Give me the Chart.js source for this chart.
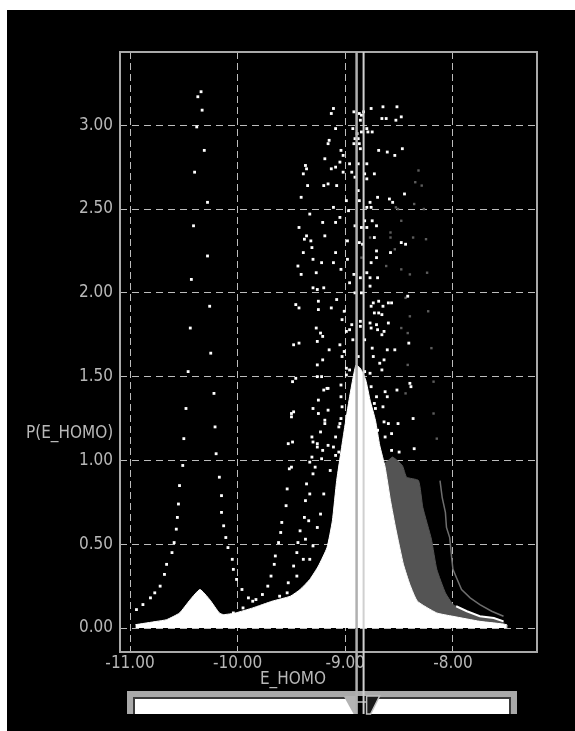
<!DOCTYPE html>
<html>
<head>
<meta charset="utf-8">
<script src="https://cdn.jsdelivr.net/npm/chart.js@4.4.1/dist/chart.umd.min.js"></script>
<style>
  html, body { margin: 0; padding: 0; background: #fff; }
  #wrap { position: absolute; left: 7px; top: 10px; width: 568px; height: 721px; background: #000; }
</style>
</head>
<body>
<div id="wrap"><canvas id="chart"></canvas></div>
<script>
// axis ticks
const xTicks = [-11, -10, -9, -8];
const yTicks = [0, 0.5, 1, 1.5, 2, 2.5, 3];
// positions of the two cursor lines (E_HOMO)
const cursorLines = [-8.895, -8.83];

// main density (white area)
const whiteDensity = [
  [-10.95, 0.02], [-10.75, 0.04], [-10.66, 0.05], [-10.54, 0.09], [-10.44, 0.17], [-10.35, 0.23],
  [-10.26, 0.17], [-10.17, 0.09], [-10.13, 0.08], [-10.02, 0.09], [-9.86, 0.12], [-9.68, 0.16],
  [-9.51, 0.19], [-9.42, 0.23], [-9.33, 0.29], [-9.25, 0.37], [-9.17, 0.48], [-9.12, 0.64],
  [-9.08, 0.88], [-9.01, 1.18], [-8.96, 1.38], [-8.92, 1.52], [-8.90, 1.57], [-8.86, 1.55],
  [-8.81, 1.48], [-8.77, 1.36], [-8.72, 1.24], [-8.68, 1.09], [-8.63, 0.96], [-8.58, 0.76],
  [-8.53, 0.59], [-8.46, 0.38], [-8.40, 0.26], [-8.33, 0.16], [-8.15, 0.09], [-8.00, 0.07],
  [-7.75, 0.04], [-7.50, 0.02], [-7.50, 0.00]
];
// second density (dark grey area)
const grayDensity = [
  [-8.66, 0.97], [-8.60, 1.00], [-8.56, 1.02], [-8.47, 0.97], [-8.43, 0.90], [-8.32, 0.88],
  [-8.28, 0.72], [-8.20, 0.53], [-8.15, 0.35], [-8.07, 0.21], [-8.00, 0.14], [-7.97, 0.13],
  [-7.87, 0.10], [-7.75, 0.07], [-7.62, 0.06], [-7.53, 0.04], [-7.53, 0.00]
];
const tailEdge = [[-7.97, 0.13], [-7.87, 0.10], [-7.75, 0.07], [-7.62, 0.06], [-7.53, 0.04]];
const dimTail = [
  [-8.12, 0.88], [-8.10, 0.78], [-8.07, 0.69], [-8.06, 0.60], [-8.03, 0.54], [-8.01, 0.41],
  [-8.00, 0.35], [-7.96, 0.29], [-7.92, 0.23], [-7.84, 0.18], [-7.75, 0.14], [-7.64, 0.10], [-7.53, 0.07]
];

// dotted curves
const leftRise = [
  [-10.94, 0.11], [-10.88, 0.14], [-10.81, 0.18], [-10.77, 0.21], [-10.72, 0.25], [-10.68, 0.32],
  [-10.66, 0.38], [-10.61, 0.45], [-10.59, 0.51], [-10.57, 0.59], [-10.56, 0.66], [-10.55, 0.74],
  [-10.54, 0.85], [-10.51, 0.97], [-10.50, 1.13], [-10.48, 1.31], [-10.46, 1.53], [-10.44, 1.79],
  [-10.43, 2.08], [-10.41, 2.40], [-10.40, 2.72], [-10.38, 2.99], [-10.37, 3.17], [-10.34, 3.20]
];
const leftFall = [
  [-10.33, 3.09], [-10.31, 2.85], [-10.28, 2.54], [-10.28, 2.22], [-10.26, 1.92], [-10.25, 1.64],
  [-10.22, 1.40], [-10.21, 1.20], [-10.20, 1.04], [-10.17, 0.90], [-10.15, 0.79], [-10.15, 0.69],
  [-10.13, 0.61], [-10.11, 0.54], [-10.09, 0.48], [-10.05, 0.41], [-10.04, 0.35], [-10.01, 0.29],
  [-9.96, 0.23], [-9.90, 0.18], [-9.81, 0.12], [-9.74, 0.10]
];
const midCurve1 = [
  [-10.04, 0.09], [-9.95, 0.12], [-9.86, 0.16], [-9.83, 0.17], [-9.77, 0.20], [-9.72, 0.25],
  [-9.69, 0.31], [-9.66, 0.38], [-9.65, 0.43], [-9.62, 0.51], [-9.60, 0.57], [-9.59, 0.63],
  [-9.55, 0.73], [-9.54, 0.83], [-9.52, 0.95], [-9.50, 1.28]
];
const midCurve2 = [
  [-9.30, 1.11], [-9.31, 1.02], [-9.36, 0.86], [-9.37, 0.76], [-9.38, 0.66], [-9.42, 0.58],
  [-9.44, 0.51], [-9.45, 0.45], [-9.48, 0.37], [-9.53, 0.27], [-9.61, 0.19]
];
const midCurve3 = [
  [-9.17, 1.43], [-9.16, 1.30], [-9.26, 1.08], [-9.30, 0.92], [-9.33, 0.80], [-9.34, 0.64],
  [-9.37, 0.53], [-9.39, 0.41], [-9.45, 0.31], [-9.54, 0.21]
];
const edgeDots = [
  [-9.11, 1.08], [-9.14, 0.94], [-9.20, 0.80], [-9.23, 0.68], [-9.26, 0.60], [-9.30, 0.49], [-9.33, 0.41]
];
// scattered cloud round the main peak
const cloudDots = [
  [-9.11, 3.10], [-9.13, 3.07], [-8.92, 3.08], [-8.87, 3.07], [-8.85, 3.06], [-8.86, 3.03], [-9.09, 2.98],
  [-8.93, 2.98], [-8.89, 2.95], [-8.85, 2.96], [-8.91, 2.92], [-9.15, 2.91], [-9.16, 2.89], [-8.92, 2.89],
  [-8.87, 2.89], [-8.86, 2.86], [-9.04, 2.85], [-9.02, 2.82], [-9.19, 2.80], [-9.05, 2.78], [-8.96, 2.77],
  [-9.37, 2.76], [-9.36, 2.74], [-9.13, 2.74], [-9.09, 2.75], [-9.39, 2.71], [-9.02, 2.72], [-8.94, 2.72],
  [-8.91, 2.69], [-9.35, 2.64], [-9.20, 2.64], [-9.16, 2.65], [-9.08, 2.64], [-8.88, 2.61], [-9.41, 2.57],
  [-8.99, 2.55], [-8.87, 2.55], [-9.11, 2.51], [-8.97, 2.49], [-9.33, 2.47], [-9.05, 2.45], [-9.09, 2.42],
  [-9.21, 2.42], [-9.43, 2.39], [-8.91, 2.40], [-9.36, 2.34], [-9.19, 2.34], [-9.38, 2.32], [-9.32, 2.31],
  [-8.98, 2.31], [-8.87, 2.30], [-9.31, 2.27], [-9.39, 2.24], [-9.09, 2.24], [-9.30, 2.20], [-8.98, 2.20],
  [-9.44, 2.16], [-9.22, 2.18], [-9.11, 2.18], [-9.04, 2.14], [-9.27, 2.12], [-9.41, 2.11], [-8.92, 2.11],
  [-8.86, 2.09], [-8.96, 2.06], [-9.30, 2.03], [-9.26, 2.02], [-9.20, 2.03], [-8.91, 2.00], [-8.85, 2.00],
  [-9.25, 1.95], [-9.08, 1.96], [-9.46, 1.93], [-9.43, 1.91], [-9.25, 1.90], [-9.13, 1.91], [-9.01, 1.89],
  [-9.03, 1.84], [-8.94, 1.81], [-8.86, 1.83], [-8.86, 1.80], [-9.27, 1.79], [-9.23, 1.76], [-9.21, 1.74],
  [-8.96, 1.78], [-8.99, 1.77], [-9.26, 1.71], [-8.93, 1.72], [-9.48, 1.69], [-9.43, 1.70], [-9.15, 1.66],
  [-9.05, 1.69], [-9.01, 1.65], [-9.03, 1.62], [-9.21, 1.60], [-8.88, 1.62], [-9.26, 1.57], [-8.99, 1.55],
  [-8.96, 1.54], [-9.46, 1.49], [-9.49, 1.47], [-9.26, 1.50], [-9.22, 1.50], [-8.99, 1.51], [-9.04, 1.45],
  [-9.16, 1.43], [-9.20, 1.42], [-9.04, 1.38], [-9.25, 1.36], [-9.30, 1.31], [-9.03, 1.32], [-9.48, 1.29],
  [-9.50, 1.26], [-9.25, 1.28], [-9.19, 1.24], [-9.19, 1.22], [-9.04, 1.25], [-9.06, 1.20], [-9.05, 1.22],
  [-9.23, 1.17], [-9.31, 1.14], [-9.09, 1.14], [-9.49, 1.11], [-9.53, 1.10], [-9.26, 1.10], [-9.16, 1.09],
  [-9.21, 1.06], [-9.06, 1.05], [-9.09, 1.03], [-9.22, 1.01], [-9.33, 0.99], [-9.50, 0.96], [-9.28, 0.96],
  [-8.76, 3.10], [-8.65, 3.11], [-8.52, 3.11], [-8.83, 3.08], [-8.66, 3.04], [-8.62, 3.04], [-8.48, 3.05],
  [-8.53, 3.03], [-8.80, 2.98], [-8.79, 2.96], [-8.75, 2.96], [-8.88, 2.92], [-8.69, 2.85], [-8.61, 2.84],
  [-8.54, 2.82], [-8.47, 2.86], [-8.88, 2.77], [-8.80, 2.77], [-8.82, 2.71], [-8.73, 2.71], [-8.80, 2.68],
  [-8.45, 2.59], [-8.70, 2.57], [-8.59, 2.56], [-8.56, 2.54], [-8.77, 2.54], [-8.80, 2.51], [-8.76, 2.51],
  [-8.82, 2.43], [-8.75, 2.43], [-8.85, 2.39], [-8.80, 2.39], [-8.71, 2.40], [-8.73, 2.33], [-8.84, 2.29],
  [-8.48, 2.30], [-8.44, 2.29], [-8.71, 2.25], [-8.58, 2.24], [-8.71, 2.21], [-8.76, 2.18], [-8.80, 2.12],
  [-8.77, 2.09], [-8.70, 2.09], [-8.77, 2.04], [-8.42, 1.98], [-8.74, 1.94], [-8.69, 1.95], [-8.60, 1.94],
  [-8.57, 1.94], [-8.76, 1.92], [-8.65, 1.92], [-8.73, 1.88], [-8.69, 1.88], [-8.66, 1.87], [-8.77, 1.82],
  [-8.71, 1.81], [-8.60, 1.82], [-8.76, 1.79], [-8.70, 1.78], [-8.64, 1.77], [-8.66, 1.75], [-8.82, 1.72],
  [-8.41, 1.70], [-8.75, 1.67], [-8.61, 1.66], [-8.54, 1.66], [-8.74, 1.62], [-8.64, 1.60], [-8.68, 1.58],
  [-8.66, 1.54], [-8.82, 1.53], [-8.77, 1.52], [-8.76, 1.44], [-8.40, 1.46], [-8.39, 1.44], [-8.52, 1.42],
  [-8.63, 1.41], [-8.71, 1.38], [-8.61, 1.38], [-8.73, 1.34], [-8.65, 1.32], [-8.72, 1.31], [-8.37, 1.25],
  [-8.64, 1.23], [-8.60, 1.22], [-8.51, 1.22], [-8.70, 1.18], [-8.57, 1.16], [-8.63, 1.14], [-8.71, 1.10],
  [-8.36, 1.07], [-8.57, 1.06], [-8.50, 1.05], [-8.68, 1.04]
];
// faint grey dots right of the peak
const grayDots = [
  [-8.32, 2.73], [-8.35, 2.66], [-8.29, 2.64], [-8.53, 2.51], [-8.51, 2.50], [-8.36, 2.53], [-8.27, 2.50],
  [-8.48, 2.43], [-8.77, 2.33], [-8.58, 2.33], [-8.58, 2.36], [-8.37, 2.33], [-8.25, 2.32], [-8.54, 2.26],
  [-8.85, 2.21], [-8.62, 2.16], [-8.48, 2.14], [-8.24, 2.12], [-8.40, 2.11], [-8.44, 1.97], [-8.23, 1.89],
  [-8.40, 1.86], [-8.48, 1.79], [-8.42, 1.76], [-8.20, 1.67], [-8.42, 1.57], [-8.18, 1.47], [-8.44, 1.40],
  [-8.18, 1.28], [-8.15, 1.13]
];

const whiteDots = [].concat(leftRise, leftFall, midCurve1, midCurve2, midCurve3, edgeDots, cloudDots);
const FONT = "'Liberation Sans Narrow', 'DejaVu Sans Condensed', sans-serif";
const TEXT = '#b8b8b8';

// frame, cursor lines, slider and the two axis titles
const overlay = {
  id: 'overlay',
  afterDatasetsDraw(chart) {
    const { ctx, chartArea: a, scales: { x } } = chart;
    const c1 = x.getPixelForValue(cursorLines[0]);
    const c2 = x.getPixelForValue(cursorLines[1]);
    ctx.save();
    ctx.strokeStyle = '#a9a9a9';
    ctx.lineWidth = 2;
    ctx.strokeRect(a.left, a.top, a.right - a.left, a.bottom - a.top);

    // slider
    const sTop = a.bottom + 39, sBot = a.bottom + 62;
    ctx.fillStyle = '#a9a9a9';
    ctx.fillRect(a.left + 7, sTop, a.right - a.left - 27, sBot - sTop);
    ctx.fillStyle = '#3a3a3a';
    ctx.fillRect(a.left + 13, sTop + 6, a.right - a.left - 39, sBot - sTop - 6);
    ctx.fillStyle = '#ffffff';
    ctx.fillRect(a.left + 15, sTop + 8, a.right - a.left - 43, sBot - sTop - 8);
    ctx.fillStyle = '#000';
    ctx.fillRect(c1, sTop + 5, c2 + 3 - c1, sBot - sTop - 5);
    // left handle
    ctx.fillStyle = '#b4b4b4';
    ctx.beginPath();
    ctx.moveTo(c1 - 13, sTop + 5); ctx.lineTo(c1, sTop + 5); ctx.lineTo(c1, sBot); ctx.lineTo(c1 - 3, sBot);
    ctx.closePath(); ctx.fill();
    // right handle
    ctx.fillStyle = '#1a1a1a';
    ctx.strokeStyle = '#c0c0c0';
    ctx.lineWidth = 1.5;
    ctx.beginPath();
    ctx.moveTo(c2 + 3, sTop + 5); ctx.lineTo(c2 + 16, sTop + 5); ctx.lineTo(c2 + 7, sBot); ctx.lineTo(c2 + 3, sBot);
    ctx.closePath(); ctx.fill(); ctx.stroke();
    ctx.beginPath();
    ctx.moveTo(c1, sTop + 11); ctx.lineTo(c2 + 3, sTop + 11); ctx.stroke();

    // cursor lines
    ctx.strokeStyle = '#b0b0b0';
    ctx.lineWidth = 2.5;
    ctx.beginPath(); ctx.moveTo(c1, a.top); ctx.lineTo(c1, sBot); ctx.stroke();
    ctx.strokeStyle = '#d0d0d0';
    ctx.lineWidth = 2;
    ctx.beginPath(); ctx.moveTo(c2, a.top); ctx.lineTo(c2, sBot); ctx.stroke();

    // axis titles
    ctx.font = '17px ' + FONT;
    ctx.fillStyle = TEXT;
    ctx.textBaseline = 'middle';
    ctx.textAlign = 'center';
    ctx.fillText('E_HOMO', a.left + 173, a.bottom + 28);
    ctx.textAlign = 'left';
    ctx.fillText('P(E_HOMO)', 19, chart.scales.y.getPixelForValue(1.16));
    ctx.restore();
  }
};

const dots = (data, color, r) => ({
  type: 'scatter', data, order: 1,
  pointStyle: 'rect', pointRadius: r, pointHoverRadius: r,
  backgroundColor: color, borderWidth: 0
});

new Chart(document.getElementById('chart'), {
  data: {
    datasets: [
      dots(whiteDots, '#ffffff', 2),
      dots(grayDots, '#5c5c5c', 1.7),
      { type: 'line', data: tailEdge, order: 2, borderColor: '#ffffff', borderWidth: 2, pointRadius: 0, fill: false },
      { type: 'line', data: dimTail, order: 3, borderColor: '#6e6e6e', borderWidth: 1.5, pointRadius: 0, fill: false },
      { type: 'line', data: whiteDensity, order: 4, borderColor: '#ffffff', borderWidth: 1,
        backgroundColor: '#ffffff', pointRadius: 0, fill: 'origin', tension: 0.15 },
      { type: 'line', data: grayDensity, order: 5, borderColor: '#545454', borderWidth: 1,
        backgroundColor: '#545454', pointRadius: 0, fill: 'origin', tension: 0.15 }
    ]
  },
  options: {
    responsive: true,
    maintainAspectRatio: false,
    animation: false,
    layout: { padding: { top: 42, right: 38, left: 0, bottom: 0 } },
    plugins: { legend: { display: false }, tooltip: { enabled: false } },
    scales: {
      x: {
        type: 'linear', min: -11.093, max: -7.219,
        afterBuildTicks: s => { s.ticks = xTicks.map(v => ({ value: v })); },
        afterFit: s => { s.height = 79; },
        grid: { color: '#bdbdbd', lineWidth: 1, drawTicks: false },
        border: { display: false, dash: [7, 4] },
        ticks: { color: TEXT, padding: 1, font: { family: FONT, size: 17 }, maxRotation: 0,
                 callback: v => Number(v).toFixed(2) }
      },
      y: {
        type: 'linear', min: -0.143, max: 3.437,
        afterBuildTicks: s => { s.ticks = yTicks.map(v => ({ value: v })); },
        afterFit: s => { s.width = 113; },
        grid: { color: '#bdbdbd', lineWidth: 1, drawTicks: false },
        border: { display: false, dash: [7, 5] },
        ticks: { color: TEXT, padding: 7, font: { family: FONT, size: 17 },
                 callback: v => Number(v).toFixed(2) }
      }
    }
  },
  plugins: [overlay]
});
</script>
</body>
</html>
